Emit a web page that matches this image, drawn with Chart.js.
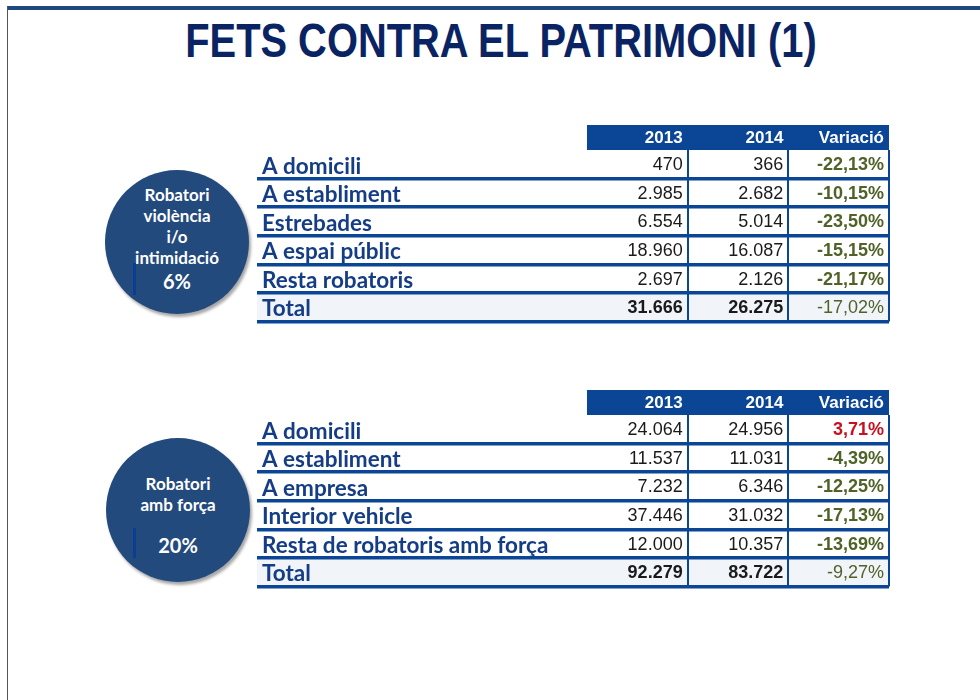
<!DOCTYPE html>
<html>
<head>
<meta charset="utf-8">
<script src="https://cdn.jsdelivr.net/npm/chart.js@4.4.1/dist/chart.umd.min.js"></script>
<style>
  html, body { margin: 0; padding: 0; background: #fff; }
  body { width: 980px; height: 700px; position: relative; overflow: hidden; }
  .topbar { position: absolute; left: 7px; top: 6px; width: 973px; height: 4px; background: #1f497d; }
  .leftline { position: absolute; left: 7px; top: 6px; width: 1px; height: 694px; background: #555; }
  h1 { position: absolute; left: 0; top: 13px; width: 1002px; margin: 0; text-align: center;
       font-family: "Liberation Sans", Arial, sans-serif; font-weight: bold;
       font-size: 48px; color: #0a2463; transform: scaleX(0.83); transform-origin: 501px 0; }
  .circle { position: absolute; width: 144px; height: 144px; border-radius: 50%; background: #234a7d;
            box-shadow: 2px 3px 3px rgba(0,0,0,0.35); color: #fff; text-align: center;
            font-family: Lato, "Open Sans", sans-serif; font-weight: bold; }
  .circle div { position: absolute; left: 0; width: 144px; }
  .mark { position: absolute; width: 3px; background: #0b3d91; }
  .tbl { position: absolute; left: 250px; width: 650px; height: 215px; }
</style>
</head>
<body>
<div class="topbar"></div>
<div class="leftline"></div>
<h1>FETS CONTRA EL PATRIMONI (1)</h1>

<div class="circle" style="left:105px; top:170px;">
  <div style="top:14px; font-size:17px;">Robatori</div>
  <div style="top:35px; font-size:17px;">violència</div>
  <div style="top:56px; font-size:17px;">i/o</div>
  <div style="top:77px; font-size:17px;">intimidació</div>
  <div style="top:99px; font-size:20px;">6%</div>
</div>
<div class="mark" style="left:133px; top:263px; height:32px;"></div>

<div class="circle" style="left:106px; top:438px;">
  <div style="top:35px; font-size:17px;">Robatori</div>
  <div style="top:56px; font-size:17px;">amb força</div>
  <div style="top:95px; font-size:20px;">20%</div>
</div>
<div class="mark" style="left:133px; top:528px; height:30px;"></div>

<div class="tbl" style="top:120px;"><canvas id="t1"></canvas></div>
<div class="tbl" style="top:385px;"><canvas id="t2"></canvas></div>

<script>
// ---- data ----
const columns = ['2013', '2014', 'Variació'];

const rows1 = ['A domicili', 'A establiment', 'Estrebades', 'A espai públic', 'Resta robatoris', 'Total'];
const y2013_1 = [470, 2985, 6554, 18960, 2697, 31666];
const y2014_1 = [366, 2682, 5014, 16087, 2126, 26275];
const var_1 = [-22.13, -10.15, -23.50, -15.15, -21.17, -17.02];

const rows2 = ['A domicili', 'A establiment', 'A empresa', 'Interior vehicle', 'Resta de robatoris amb força', 'Total'];
const y2013_2 = [24064, 11537, 7232, 37446, 12000, 92279];
const y2014_2 = [24956, 11031, 6346, 31032, 10357, 83722];
const var_2 = [3.71, -4.39, -12.25, -17.13, -13.69, -9.27];

// ---- formatting ----
function fmtInt(n) { return String(n).replace(/\B(?=(\d{3})+(?!\d))/g, '.'); }
function fmtPct(n) { return n.toFixed(2).replace('.', ',') + '%'; }

const BLUE = '#0b4596';
const LABEL_BLUE = '#143d86';

const tablePlugin = {
  id: 'tablePlugin',
  beforeDraw(chart) {
    const { ctx, chartArea, scales: { y } } = chart;
    const n = y.getLabels().length;
    const rowH = (chartArea.bottom - chartArea.top) / n;
    const leftEdge = y.right - y.options.grid.tickLength;
    const ty = y.getPixelForValue(n - 1);
    ctx.save();
    ctx.fillStyle = '#f1f4f9';
    ctx.fillRect(leftEdge, ty - rowH / 2, chartArea.right - leftEdge, rowH);
    ctx.restore();
  },
  afterDraw(chart) {
    const { ctx, chartArea, scales: { x, y } } = chart;
    const colW = (chartArea.right - chartArea.left) / columns.length;
    const n = y.getLabels().length;
    ctx.save();
    ctx.fillStyle = BLUE;
    ctx.fillRect(chartArea.left, x.top, chartArea.right - chartArea.left, chartArea.top - x.top);
    ctx.fillStyle = '#ffffff';
    ctx.font = 'bold 17px "Liberation Sans", Arial, sans-serif';
    ctx.textAlign = 'right';
    ctx.textBaseline = 'middle';
    columns.forEach((c, j) => {
      ctx.fillText(c, x.getPixelForValue(j) + colW / 2 - 5, (x.top + chartArea.top) / 2 + 1);
    });
    chart.data.datasets.forEach((ds, di) => {
      const meta = chart.getDatasetMeta(di);
      meta.data.forEach((pt, i) => {
        const raw = ds.data[i];
        const isTotal = i === n - 1;
        let txt, color, weight;
        if (ds.kind === 'pct') {
          txt = fmtPct(raw.v);
          color = raw.v > 0 ? '#c8101e' : '#4f6228';
          weight = isTotal ? 'normal' : 'bold';
        } else {
          txt = fmtInt(raw.v);
          color = '#1a1a1a';
          weight = isTotal ? 'bold' : 'normal';
        }
        ctx.fillStyle = color;
        ctx.font = weight + ' 18px "Liberation Sans", Arial, sans-serif';
        ctx.textAlign = 'right';
        ctx.textBaseline = 'middle';
        ctx.fillText(txt, pt.x + colW / 2 - 5, pt.y + 1);
      });
    });
    ctx.restore();
  }
};

function makeTable(id, rows, a, b, v) {
  const mk = (col, vals) => rows.map((r, i) => ({ x: col, y: r, v: vals[i] }));
  new Chart(document.getElementById(id), {
    type: 'line',
    data: {
      datasets: [
        { data: mk(columns[0], a), kind: 'int', showLine: false, pointRadius: 0, pointHoverRadius: 0 },
        { data: mk(columns[1], b), kind: 'int', showLine: false, pointRadius: 0, pointHoverRadius: 0 },
        { data: mk(columns[2], v), kind: 'pct', showLine: false, pointRadius: 0, pointHoverRadius: 0 }
      ]
    },
    options: {
      responsive: true,
      maintainAspectRatio: false,
      animation: false,
      events: [],
      layout: { padding: { left: 12, top: 5, right: 11, bottom: 8 } },
      plugins: { legend: { display: false }, tooltip: { enabled: false }, title: { display: false } },
      scales: {
        x: {
          type: 'category',
          labels: columns,
          position: 'top',
          offset: true,
          border: { display: false },
          grid: {
            offset: true,
            drawTicks: false,
            lineWidth: 2,
            color: (c) => (c.index === 0 ? 'rgba(0,0,0,0)' : BLUE)
          },
          ticks: { display: false },
          afterFit(s) { s.height = 25; }
        },
        y: {
          type: 'category',
          labels: rows,
          position: 'left',
          offset: true,
          border: { display: false },
          grid: {
            offset: true,
            drawTicks: true,
            tickLength: 330,
            lineWidth: 3.5,
            color: (c) => (c.index === 0 ? 'rgba(0,0,0,0)' : BLUE)
          },
          ticks: {
            autoSkip: false,
            crossAlign: 'far',
            labelOffset: 2,
            color: LABEL_BLUE,
            font: { family: 'Lato, "Open Sans", sans-serif', weight: 'bold', size: 22.5 },
            padding: 0
          },
          afterFit(s) { s.width = 325; }
        }
      }
    },
    plugins: [tablePlugin]
  });
}

makeTable('t1', rows1, y2013_1, y2014_1, var_1);
makeTable('t2', rows2, y2013_2, y2014_2, var_2);
</script>
</body>
</html>
